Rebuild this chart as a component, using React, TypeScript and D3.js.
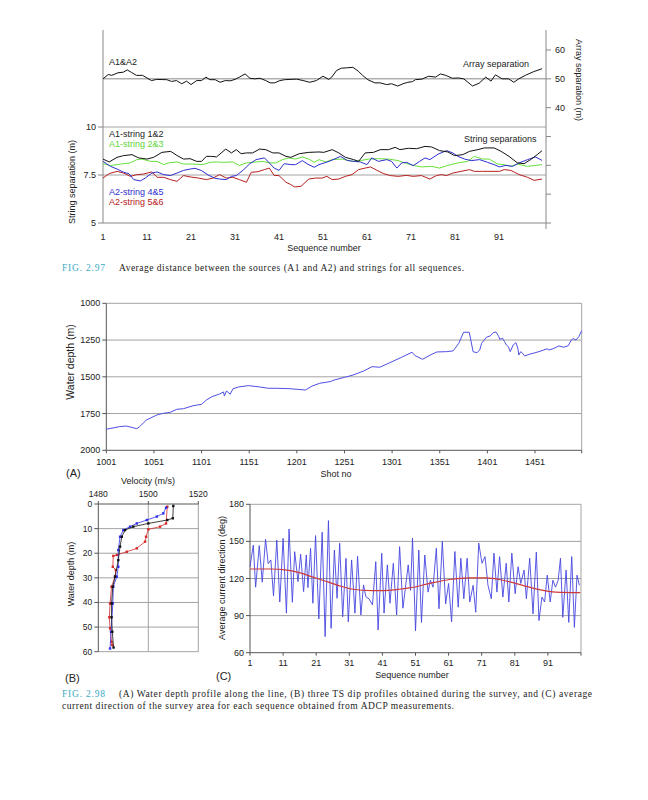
import React from 'react';
import * as d3 from 'd3';

const SANS = 'Liberation Sans, Arial, sans-serif';
const SERIF = 'Liberation Serif, Times New Roman, serif';
const TEAL = '#3aa9c4';

// ---------- FIG 2.97 data ----------
const seqTicks = [1, 11, 21, 31, 41, 51, 61, 71, 81, 91];
const stringTicks = [5, 7.5, 10];
const arrayTicks = [0, 10, 20, 30, 40, 50, 60];
const arrayTickLabels = [40, 50, 60];

const arraySep: [number, number][] = [
  [1, 50], [2.2, 51.5], [3, 51.2], [4.4, 52.1], [5.6, 52.3], [6.5, 53.1], [7.5, 52.2], [8.6, 51.2], [10, 51.2],
  [12, 49.4], [13.2, 49.8], [15.5, 49.7], [16.6, 49.1], [17.7, 49.4], [18.9, 48.3], [20, 49.2], [21, 48.0],
  [22.3, 49.4], [23.4, 49.4], [24.4, 50.6], [25.3, 49.7], [26.5, 49.7], [27.6, 48.8], [28.8, 49.4], [29.9, 49.3],
  [31, 49.8], [32, 50.6], [33.3, 51.7], [34.4, 50.2], [35.5, 50], [36.7, 50.2], [38, 49.4], [39, 48.6], [40, 48.6],
  [41.2, 49.4], [42.3, 49.7], [43.5, 49.8], [45, 49.9], [46.5, 49.4], [48, 48.8], [49.5, 49.4], [51, 50.9],
  [52.3, 49.8], [53, 50.6], [54.1, 52.9], [55.2, 53.7], [56.3, 53.8], [57.8, 54.0], [59, 52.7], [60, 51.2],
  [61.2, 49.7], [62.8, 48.6], [64, 48.6], [65.5, 48.0], [66.6, 48.3], [68, 47.5], [69.2, 48.3], [70.3, 48.8],
  [71.3, 49.0], [72, 49.7], [73.5, 49.9], [75, 50.9], [76.6, 50.6], [77.7, 51.7], [78.9, 51.2], [80.4, 50.2],
  [81.8, 50.3], [83, 50], [85, 47.5], [86.5, 48.5], [88, 50.6], [89.2, 49.2], [90.2, 51.4], [91.7, 50],
  [93.2, 50], [94.4, 48.8], [95.5, 50], [97, 51.2], [98.9, 52.5], [100.8, 53.5],
];

const string12: [number, number][] = [
  [1, 8.33], [2.4, 8.18], [4.2, 8.42], [5.7, 8.51], [7.6, 8.56], [9.1, 8.39], [11, 8.33], [12.5, 8.42], [14.4, 8.68],
  [16.4, 8.73], [17.8, 8.52], [19.3, 8.33], [20.8, 8.35], [22.3, 8.21], [23.4, 8.21], [24.5, 8.47], [25.7, 8.47],
  [26.8, 8.44], [28.9, 8.85], [30.2, 8.65], [31.3, 8.82], [32.4, 8.61], [33.6, 8.65], [35, 8.65], [36.6, 8.85],
  [38, 8.82], [39.6, 8.65], [41, 8.65], [42.6, 8.47], [43.7, 8.42], [45.6, 8.61], [47.8, 8.68], [50.1, 8.7],
  [51.2, 8.68], [53.1, 8.82], [54.6, 8.65], [56.1, 8.42], [58, 8.3], [59.1, 8.21], [60.6, 8.65], [62.5, 8.68],
  [64, 8.82], [65.9, 8.82], [67.4, 8.94], [68.5, 8.82], [70.4, 8.89], [72.3, 8.87], [74.2, 8.99], [75.7, 8.96],
  [77.5, 8.77], [79.4, 8.7], [80.9, 8.51], [82.8, 8.56], [84.3, 8.73], [86.2, 8.82], [87.7, 8.91], [89.9, 8.91],
  [91.5, 8.73], [93.3, 8.47], [95.2, 8.13], [96.7, 8.09], [98.2, 8.3], [99.7, 8.56], [100.8, 8.77],
];

const string23: [number, number][] = [
  [1, 8.09], [2.7, 7.99], [5, 8.07], [7.2, 8.13], [8.7, 8.3], [9.9, 8.33], [11.8, 8.21], [13.3, 8.21], [14.8, 8.04],
  [15.9, 8.13], [17.8, 8.18], [19.3, 8.07], [21.5, 8.07], [23.8, 8.04], [25.3, 8.16], [26.8, 8.18], [28.3, 8.16],
  [30.5, 8.18], [32, 8.0], [33.6, 8.13], [35, 8.16], [37.3, 8.21], [38.8, 8.13], [40.3, 8.13], [41.8, 8.3],
  [43.3, 8.39], [44.8, 8.33], [46.3, 8.44], [47.8, 8.33], [49, 8.16], [50.1, 8.3], [51.6, 8.18], [53.1, 8.3],
  [55.4, 8.33], [57.6, 8.21], [59.5, 8.25], [61.4, 8.33], [63.6, 8.35], [65.9, 8.33], [68.1, 8.25], [69.6, 8.13],
  [71.5, 8.0], [73.4, 7.92], [75.7, 7.95], [77.5, 7.86], [79.4, 8.0], [81.7, 8.13], [83.9, 8.21], [85.4, 8.47],
  [87.3, 8.33], [88.8, 8.33], [90.7, 8.07], [92.2, 8.04], [93.7, 7.95], [95.2, 8.07], [97.5, 7.95], [99, 7.99],
  [100.8, 8.04],
];

const string45: [number, number][] = [
  [1, 8.21], [2.7, 7.95], [4.2, 7.81], [5.7, 7.64], [6.9, 7.57], [8, 7.26], [9.5, 7.19], [10.6, 7.34], [12.1, 7.6],
  [13.3, 7.66], [14.8, 7.52], [16.3, 7.47], [17.8, 7.6], [19.3, 7.74], [20.8, 7.81], [21.9, 7.85], [23.4, 7.73],
  [24.9, 7.5], [26.4, 7.33], [27.5, 7.29], [29, 7.26], [30.2, 7.43], [31.3, 7.47], [32.8, 7.74], [34.3, 8.07],
  [35.8, 8.3], [37.7, 8.39], [38.8, 8.13], [39.9, 7.86], [41, 7.74], [42.2, 8.09], [43.7, 8.04], [44.8, 8.04],
  [46.3, 8.25], [47.5, 8.07], [49, 7.9], [50.1, 8.04], [52.4, 8.21], [55, 8.47], [56.5, 8.26], [58, 8.21],
  [59.5, 8.18], [61, 8.04], [62.1, 8.39], [63.6, 8.21], [65.5, 8.3], [66.6, 8.21], [67.8, 7.86], [68.9, 8.13],
  [70, 8.16], [71.5, 7.99], [73, 8.21], [74.2, 8.39], [75.3, 8.3], [77.2, 8.59], [79.1, 8.77], [80.5, 8.65],
  [81.7, 8.47], [83.2, 8.33], [84.7, 8.25], [86.6, 8.3], [88.4, 8.16], [89.9, 8.04], [91.1, 7.92], [92.6, 8.0],
  [94.1, 7.95], [95.6, 8.13], [97.5, 8.3], [99.3, 8.44], [100.8, 8.26],
];

const string56: [number, number][] = [
  [1, 7.34], [2.4, 7.57], [4.2, 7.69], [5.7, 7.6], [7.2, 7.43], [8.7, 7.52], [10.2, 7.55], [12.1, 7.66], [13.3, 7.38],
  [14.8, 7.38], [16.3, 7.26], [17.8, 7.17], [19.3, 7.47], [20.8, 7.4], [22.7, 7.34], [24.5, 7.26], [26, 7.34],
  [27.5, 7.52], [29, 7.34], [30.5, 7.38], [32, 7.26], [33.6, 7.12], [34.7, 7.64], [36.2, 7.67], [37.7, 7.78],
  [38.8, 7.86], [39.9, 7.48], [41, 7.47], [42.6, 7.12], [43.7, 7.0], [44.5, 6.88], [46, 6.91], [47.8, 7.29],
  [49.3, 7.34], [50.8, 7.34], [51.9, 7.43], [53.1, 7.26], [54.6, 7.29], [56.1, 7.43], [57.6, 7.52], [59.1, 7.78],
  [60.6, 7.86], [61.8, 7.92], [63.3, 7.74], [64.8, 7.57], [66.3, 7.47], [68.1, 7.43], [70, 7.48], [71.5, 7.43],
  [73.4, 7.47], [75.3, 7.29], [76.8, 7.47], [77.9, 7.52], [79.1, 7.47], [80.5, 7.6], [82.4, 7.69], [84.3, 7.78],
  [85.4, 7.69], [87.3, 7.69], [89.2, 7.69], [91.1, 7.69], [92.2, 7.78], [93.7, 7.74], [95.6, 7.52], [97.5, 7.38],
  [99, 7.22], [100.8, 7.29],
];

// ---------- FIG 2.98 (A) ----------
const shotTicks = [1001, 1051, 1101, 1151, 1201, 1251, 1301, 1351, 1401, 1451];
const depthTicksA = [1000, 1250, 1500, 1750, 2000];
const shotNo = [1001, 1015, 1022, 1033, 1036, 1043, 1054, 1061, 1068, 1075, 1082, 1092, 1101, 1106, 1112, 1120, 1124,
  1125, 1127, 1129, 1131, 1134, 1140, 1150, 1162, 1171, 1180, 1194, 1201, 1210, 1217, 1225, 1236, 1240, 1251, 1260,
  1271, 1280, 1288, 1301, 1311, 1322, 1325, 1333, 1341, 1348, 1358, 1365, 1371, 1376, 1382, 1386, 1390, 1393, 1395,
  1400, 1404, 1407, 1410, 1413, 1414, 1417, 1419, 1421, 1423, 1425, 1428, 1431, 1433, 1434, 1436, 1438, 1440, 1446,
  1453, 1460, 1464, 1465, 1470, 1476, 1481, 1486, 1489, 1491, 1494, 1497, 1500];
const waterDepth = [1857, 1839, 1835, 1853, 1839, 1794, 1760, 1748, 1742, 1721, 1717, 1697, 1687, 1658, 1635, 1617,
  1603, 1631, 1597, 1605, 1619, 1581, 1569, 1560, 1569, 1578, 1578, 1581, 1585, 1590, 1563, 1544, 1533, 1522, 1504,
  1488, 1461, 1431, 1435, 1397, 1367, 1333, 1356, 1381, 1352, 1331, 1329, 1324, 1272, 1197, 1197, 1329, 1336, 1318,
  1272, 1231, 1222, 1200, 1195, 1227, 1245, 1238, 1261, 1284, 1295, 1329, 1284, 1268, 1306, 1352, 1329, 1340, 1358,
  1345, 1333, 1318, 1309, 1318, 1309, 1290, 1299, 1288, 1250, 1240, 1250, 1227, 1186];

// ---------- FIG 2.98 (B) ----------
const velTicks = [1480, 1500, 1520];
const depthTicksB = [0, 10, 20, 30, 40, 50, 60];
const tsBlackVel = [1510, 1509.8, 1507.6, 1500, 1494, 1490.7, 1489.4, 1488.7, 1488, 1486.7, 1485.8, 1485.3, 1485.3, 1485.6, 1486.1];
const tsBlackDepth = [0.8, 5.8, 6.5, 7.9, 9.2, 10.6, 13.3, 17.3, 22.8, 29.5, 33.6, 40.4, 46, 51.9, 58.3];
const tsBlueVel = [1507.1, 1506, 1503.4, 1499.4, 1495.4, 1492.7, 1490, 1488.7, 1488, 1488, 1487.4, 1486, 1485.8, 1485.1, 1484.7];
const tsBlueDepth = [1.5, 3.8, 5.1, 6.5, 7.9, 9.2, 10.6, 13.3, 18.7, 25.5, 29.5, 33.6, 40.4, 51.9, 58.7];
const tsRedVel = [1507.6, 1507.1, 1504.7, 1500, 1499.1, 1498.7, 1495.4, 1491.4, 1487.4, 1486, 1485.8, 1487, 1486.7, 1485.3, 1484.7, 1484.4, 1484.7, 1485.3, 1485.6];
const tsRedDepth = [1.1, 7.9, 9.2, 10.3, 13.3, 15.3, 18, 19.4, 20.7, 21.1, 25.5, 26.8, 29.5, 33.6, 40.4, 46, 50.5, 56, 57.3];

// ---------- FIG 2.98 (C) ----------
const dirTicks = [60, 90, 120, 150, 180];
const currentDir: [number, number][] = [
  [1, 129.6], [2, 147], [2.7, 113], [3.8, 146.6], [4.7, 117], [5.7, 151.7], [6.5, 132], [7.3, 135], [8.1, 106],
  [9.1, 151], [10, 101], [11, 152.5], [12, 92], [12.8, 160], [13.8, 100.8], [14.5, 141.7], [15.5, 117.5],
  [16.3, 139.6], [17.2, 109.4], [18, 139], [18.5, 112.6], [19.3, 144.4], [20, 100], [20.8, 154.7], [21.8, 87.3],
  [22.8, 157.4], [23.7, 73], [24.7, 166.8], [25.5, 79.7], [26.5, 143], [27.3, 104], [28.1, 148.5], [29, 89],
  [30, 136.3], [30.7, 85], [31.7, 135], [32.7, 92], [33.5, 138], [34.5, 90.5], [35.3, 114.8], [36, 105.3],
  [37, 103.4], [38, 98.6], [39, 133.6], [39.7, 78.4], [40.8, 140.4], [41.5, 92], [42.5, 131], [43.3, 100],
  [44.3, 132.3], [45.3, 90.5], [46.2, 145.8], [47.2, 96], [48.8, 131], [49.5, 110.5], [50.1, 152.7], [51, 77.7],
  [52, 143], [52.8, 84.5], [53.8, 139], [54.8, 109], [55.5, 118.6], [56.3, 113], [57.3, 144.5], [58.1, 95.5],
  [59.1, 150], [60.1, 99.5], [61, 116], [61.9, 85], [62.9, 141.8], [63.9, 96.8], [64.7, 136.4], [65.6, 103.6],
  [66.6, 136.4], [67.4, 101], [68.4, 114.5], [69.2, 92.7], [70.1, 148.6], [71.1, 132.3], [72, 137.7], [72.9, 114.5],
  [73.9, 103.6], [74.7, 140.5], [75.6, 109], [76.4, 137.7], [77.4, 105], [78.4, 132.3], [79.2, 101], [80.1, 140.5],
  [81.1, 107.7], [82, 129.5], [82.8, 116], [83.8, 126.8], [84.5, 103.6], [85.5, 136.4], [86.5, 91.4], [87.5, 141.3],
  [88.3, 86], [89.2, 105], [90, 101], [90.8, 122.7], [91.7, 101], [92.5, 118.6], [93.3, 113], [94.1, 118.6],
  [94.8, 136.4], [95.5, 88.6], [96.5, 126.8], [97.3, 84.5], [98.2, 137.7], [99, 80.5], [99.8, 122.7], [100.5, 114.5],
];
const currentTrend: [number, number][] = [
  [1, 127.7], [7.5, 127.7], [11.6, 127], [15.6, 125], [19.6, 121.5], [23.6, 118], [27.6, 114.5], [31.7, 111.5],
  [37.7, 110.2], [41.7, 110.2], [45.7, 111.2], [49.3, 112.4], [55.3, 116], [61.3, 119.2], [67.3, 120.5],
  [72.4, 120.5], [77.4, 118.6], [83.4, 114.5], [88.4, 111], [93.4, 109], [100.8, 108.5],
];

const txt = '#222';
const grid = '#a3a3a3';
const axisDark = '#555';

function Fig297() {
  const x = d3.scaleLinear().domain([1, 101.7]).range([103, 546]);
  const yL = d3.scaleLinear().domain([5, 10]).range([223, 127]);
  const yR = d3.scaleLinear().domain([0, 60]).range([223, 50]);
  const top = 30;
  const lineL = d3.line<[number, number]>().x((d) => x(d[0])).y((d) => yL(d[1]));
  const lineR = d3.line<[number, number]>().x((d) => x(d[0])).y((d) => yR(d[1]));
  const [x0, x1] = x.range();
  return (
    <g fontFamily={SANS} fontSize={9} fill={txt}>
      <line x1={x0} x2={x1} y1={yL(10)} y2={yL(10)} stroke={grid} />
      <line x1={x0} x2={x1} y1={yL(7.5)} y2={yL(7.5)} stroke={grid} />
      <line x1={x0} x2={x1} y1={yR(50)} y2={yR(50)} stroke="#888" />
      <line x1={x0} x2={x0} y1={top} y2={yL(5)} stroke="#888" />
      <line x1={x1} x2={x1} y1={top} y2={yL(5)} stroke="#888" />
      <line x1={x0} x2={x1} y1={yL(5)} y2={yL(5)} stroke="#888" />
      {stringTicks.map((t) => (
        <g key={t}>
          <line x1={x0 - 5} x2={x0} y1={yL(t)} y2={yL(t)} stroke="#888" />
          <text x={x0 - 7} y={yL(t) + 3} textAnchor="end">{t}</text>
        </g>
      ))}
      {arrayTicks.map((t) => (
        <line key={t} x1={x1} x2={x1 + 5} y1={yR(t)} y2={yR(t)} stroke="#888" />
      ))}
      {arrayTickLabels.map((t) => (
        <text key={t} x={x1 + 9} y={yR(t) + 3}>{t}</text>
      ))}
      <line x1={x1} x2={x1} y1={yL(5)} y2={yL(5) + 6} stroke="#888" />
      {seqTicks.map((t) => (
        <text key={t} x={x(t)} y={240} textAnchor="middle">{t}</text>
      ))}
      <text x={324} y={251} textAnchor="middle">Sequence number</text>
      <text transform="translate(75,182) rotate(-90)" textAnchor="middle">String separation (m)</text>
      <text transform="translate(576,80) rotate(90)" textAnchor="middle">Array separation (m)</text>
      <path d={lineR(arraySep) ?? ''} fill="none" stroke="#111" strokeWidth={1} />
      <path d={lineL(string23) ?? ''} fill="none" stroke="#66e03a" strokeWidth={1} />
      <path d={lineL(string56) ?? ''} fill="none" stroke="#b82020" strokeWidth={1} />
      <path d={lineL(string45) ?? ''} fill="none" stroke="#2f2fd0" strokeWidth={1} />
      <path d={lineL(string12) ?? ''} fill="none" stroke="#111" strokeWidth={1} />
      <text x={109} y={65}>A1&amp;A2</text>
      <text x={463} y={67}>Array separation</text>
      <text x={464} y={142}>String separations</text>
      <text x={109} y={137}>A1-string 1&amp;2</text>
      <text x={109} y={146.5} fill="#5ed836">A1-string 2&amp;3</text>
      <text x={109} y={194.5} fill="#2f2fd0">A2-string 4&amp;5</text>
      <text x={109} y={204.5} fill="#b82020">A2-string 5&amp;6</text>
    </g>
  );
}

function ChartA() {
  const x = d3.scaleLinear().domain([1001, 1500]).range([106.3, 581.7]);
  const y = d3.scaleLinear().domain([1000, 2000]).range([303.3, 450.3]);
  const pts = shotNo.map((s, i) => [s, waterDepth[i]] as [number, number]);
  const line = d3.line<[number, number]>().x((d) => x(d[0])).y((d) => y(d[1]));
  const [x0, x1] = x.range();
  return (
    <g fontFamily={SANS} fontSize={9} fill={txt}>
      {depthTicksA.slice(1, -1).map((t) => (
        <line key={t} x1={x0} x2={x1} y1={y(t)} y2={y(t)} stroke={grid} />
      ))}
      <line x1={x0} x2={x1} y1={y(1000)} y2={y(1000)} stroke={grid} />
      <line x1={x1} x2={x1} y1={y(1000)} y2={y(2000)} stroke={grid} />
      <line x1={x0} x2={x0} y1={y(1000)} y2={y(2000)} stroke={axisDark} />
      <line x1={x0} x2={x1} y1={y(2000)} y2={y(2000)} stroke={axisDark} />
      {depthTicksA.map((t) => (
        <g key={t}>
          <line x1={x0 - 4} x2={x0} y1={y(t)} y2={y(t)} stroke={axisDark} />
          <text x={x0 - 6} y={y(t) + 3} textAnchor="end">{t}</text>
        </g>
      ))}
      {shotTicks.map((t) => (
        <g key={t}>
          <line x1={x(t)} x2={x(t)} y1={y(2000)} y2={y(2000) + 3} stroke={axisDark} />
          <text x={x(t)} y={465} textAnchor="middle">{t}</text>
        </g>
      ))}
      <line x1={x1} x2={x1} y1={y(2000)} y2={y(2000) + 3} stroke={axisDark} />
      <text x={336} y={477} textAnchor="middle">Shot no</text>
      <text transform="translate(74,362) rotate(-90)" textAnchor="middle" fontSize={10.5}>Water depth (m)</text>
      <text x={66} y={477} fontSize={11}>(A)</text>
      <path d={line(pts) ?? ''} fill="none" stroke="#4f4fe6" strokeWidth={1} />
    </g>
  );
}

function ChartB() {
  const x = d3.scaleLinear().domain([1480, 1520]).range([98.3, 198.3]);
  const y = d3.scaleLinear().domain([0, 60]).range([504, 651.7]);
  const [x0, x1] = x.range();
  const line = d3.line<[number, number]>().x((d) => x(d[0])).y((d) => y(d[1]));
  const series = [
    { v: tsRedVel, d: tsRedDepth, c: '#d42a2a' },
    { v: tsBlueVel, d: tsBlueDepth, c: '#2f2fe8' },
    { v: tsBlackVel, d: tsBlackDepth, c: '#111' },
  ];
  return (
    <g fontFamily={SANS} fontSize={9} fill={txt}>
      {depthTicksB.slice(1, -1).map((t) => (
        <line key={t} x1={x0} x2={x1} y1={y(t)} y2={y(t)} stroke={grid} />
      ))}
      <line x1={x(1500)} x2={x(1500)} y1={y(0)} y2={y(60)} stroke={grid} />
      <line x1={x1} x2={x1} y1={y(0)} y2={y(60)} stroke={grid} />
      <line x1={x0} x2={x1} y1={y(60)} y2={y(60)} stroke={grid} />
      <line x1={x0} x2={x0} y1={y(0)} y2={y(60)} stroke={axisDark} />
      <line x1={x0} x2={x1} y1={y(0)} y2={y(0)} stroke={axisDark} />
      {depthTicksB.map((t) => (
        <g key={t}>
          <line x1={x0 - 4} x2={x0} y1={y(t)} y2={y(t)} stroke={axisDark} />
          <text x={x0 - 6} y={y(t) + 3} textAnchor="end" fontSize={8.5}>{t}</text>
        </g>
      ))}
      {velTicks.map((t) => (
        <g key={t}>
          <line x1={x(t)} x2={x(t)} y1={y(0) - 3} y2={y(0)} stroke={axisDark} />
          <text x={x(t)} y={497} textAnchor="middle" fontSize={8.5}>{t}</text>
        </g>
      ))}
      <text x={148} y={484} textAnchor="middle">Velocity (m/s)</text>
      <text transform="translate(74,574) rotate(-90)" textAnchor="middle">Water depth (m)</text>
      <text x={65} y={682} fontSize={11}>(B)</text>
      {series.map((s, k) => {
        const pts = s.v.map((v, i) => [v, s.d[i]] as [number, number]);
        return (
          <g key={k}>
            <path d={line(pts) ?? ''} fill="none" stroke={s.c} strokeWidth={0.8} />
            {pts.map((p, i) => (
              <rect key={i} x={x(p[0]) - 1.2} y={y(p[1]) - 1.2} width={2.4} height={2.4} fill={s.c} />
            ))}
          </g>
        );
      })}
    </g>
  );
}

function ChartC() {
  const x = d3.scaleLinear().domain([1, 101]).range([250, 581]);
  const y = d3.scaleLinear().domain([60, 180]).range([652.7, 504.3]);
  const [x0, x1] = x.range();
  const line = d3.line<[number, number]>().x((d) => x(d[0])).y((d) => y(d[1]));
  const smooth = d3.line<[number, number]>().x((d) => x(d[0])).y((d) => y(d[1])).curve(d3.curveMonotoneX);
  return (
    <g fontFamily={SANS} fontSize={9} fill={txt}>
      {dirTicks.slice(1, -1).map((t) => (
        <line key={t} x1={x0} x2={x1} y1={y(t)} y2={y(t)} stroke={grid} />
      ))}
      <line x1={x0} x2={x1} y1={y(180)} y2={y(180)} stroke={grid} />
      <line x1={x1} x2={x1} y1={y(180)} y2={y(60)} stroke={grid} />
      <line x1={x0} x2={x0} y1={y(180)} y2={y(60)} stroke={axisDark} />
      <line x1={x0} x2={x1} y1={y(60)} y2={y(60)} stroke={axisDark} />
      {dirTicks.map((t) => (
        <g key={t}>
          <line x1={x0 - 4} x2={x0} y1={y(t)} y2={y(t)} stroke={axisDark} />
          <text x={x0 - 6} y={y(t) + 3} textAnchor="end">{t}</text>
        </g>
      ))}
      {seqTicks.map((t) => (
        <g key={t}>
          <line x1={x(t)} x2={x(t)} y1={y(60)} y2={y(60) + 3} stroke={axisDark} />
          <text x={x(t)} y={666} textAnchor="middle">{t}</text>
        </g>
      ))}
      <line x1={x1} x2={x1} y1={y(60)} y2={y(60) + 3} stroke={axisDark} />
      <text x={412} y={678} textAnchor="middle">Sequence number</text>
      <text transform="translate(225,578) rotate(-90)" textAnchor="middle">Average current direction (deg)</text>
      <text x={216} y={680} fontSize={11}>(C)</text>
      <path d={line(currentDir) ?? ''} fill="none" stroke="#4646e0" strokeWidth={0.9} />
      <path d={smooth(currentTrend) ?? ''} fill="none" stroke="#cc3a3a" strokeWidth={1.2} />
    </g>
  );
}

function Captions() {
  return (
    <g fontFamily={SERIF} fontSize={9.5} fill="#222">
      <text x={62} y={271} fill={TEAL} textLength={43} lengthAdjust="spacing">FIG. 2.97</text>
      <text x={119} y={271} textLength={345} lengthAdjust="spacing">
        Average distance between the sources (A1 and A2) and strings for all sequences.
      </text>
      <text x={62} y={697} fill={TEAL} textLength={43} lengthAdjust="spacing">FIG. 2.98</text>
      <text x={119} y={697} textLength={473} lengthAdjust="spacing">
        (A) Water depth profile along the line, (B) three TS dip profiles obtained during the survey, and (C) average
      </text>
      <text x={62} y={709} textLength={392} lengthAdjust="spacing">
        current direction of the survey area for each sequence obtained from ADCP measurements.
      </text>
    </g>
  );
}

export default function App() {
  return (
    <div style={{ position: 'absolute', left: 0, top: 0 }}>
      <svg width={648} height={800} viewBox="0 0 648 800" style={{ display: 'block', background: '#fff' }}>
        <rect width={648} height={800} fill="#fff" />
        <Fig297 />
        <Captions />
        <ChartA />
        <ChartB />
        <ChartC />
      </svg>
    </div>
  );
}
